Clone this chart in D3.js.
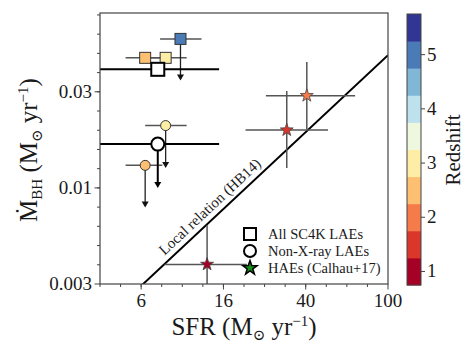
<!DOCTYPE html>
<html>
<head>
<meta charset="utf-8">
<script src="https://cdn.jsdelivr.net/npm/d3@7"></script>
<style>
body { margin: 0; background: #fff; }
text { font-family: "Liberation Serif", "DejaVu Serif", serif; fill: #1a1a1a; }
</style>
</head>
<body>
<svg id="chart" width="474" height="356"></svg>
<script>
// coloured LAE bins (squares)
var sqZ = [2.5, 3.0, 5.0];
var sqSFR = [6.6, 8.3, 9.8];
var sqSFRlo = [5.3, 7.0, 7.8];
var sqSFRhi = [8.3, 10.5, 12.4];
var sqBHAR = [0.0475, 0.0475, 0.0596];
var sqLimit = [null, null, 0.0362];

// non-X-ray bins (circles)
var ciZ = [2.5, 3.0];
var ciSFR = [6.6, 8.3];
var ciSFRlo = [5.3, 6.6];
var ciSFRhi = [8.0, 10.5];
var ciBHAR = [0.0131, 0.0211];
var ciLimit = [0.0079, 0.0127];

// full samples (white markers)
var allShape = ["square", "circle"];
var allSFR = [7.6, 7.6];
var allSFRlo = [3.0, 3.0];
var allSFRhi = [15.1, 15.1];
var allBHAR = [0.0414, 0.0169];
var allLimit = [null, 0.0100];

// HAEs (Calhau+17)
var haeZ = [1.0, 1.5, 2.2];
var haeSFR = [13.2, 32.2, 40.3];
var haeSFRlo = [8.2, 20.3, 25.5];
var haeSFRhi = [20.6, 51.1, 69.2];
var haeBHAR = [0.0040, 0.0200, 0.0302];
var haeBHARlo = [0.0015, 0.0127, 0.0202];
var haeBHARhi = [0.0064, 0.0319, 0.0452];

// local relation (HB14)
var localRatio = 4.9e-4;

// axis ticks
var xTicks = [Math.pow(10, 0.8), Math.pow(10, 1.2), Math.pow(10, 1.6), 100];
var xTickLabels = ["6", "16", "40", "100"];
var yTicks = [Math.pow(10, -2.5), 0.01, Math.pow(10, -1.5)];
var yTickLabels = ["0.003", "0.01", "0.03"];
var zTicks = [1, 2, 3, 4, 5];
var legendLabels = ["All SC4K LAEs", "Non-X-ray LAEs", "HAEs (Calhau+17)"];

var zColors = ["#a50026", "#da372a", "#f67b4a", "#fdbf71", "#feeea5",
               "#eef8df", "#bde2ee", "#80b7d6", "#4a7bb7", "#313695"];

var svg = d3.select("#chart");
var L = 100, R = 388, T = 13, B = 284;

var x = d3.scaleLog().domain([Math.pow(10, 0.6), 100]).range([L, R]);
var y = d3.scaleLog().domain([Math.pow(10, -2.5), Math.pow(10, -1.09)]).range([B, T]);
var zc = d3.scaleLinear().domain([0.75, 5.75]).range([285, 14]);

function zColor(z) {
    var i = Math.round((z - 1) / 0.5);
    return zColors[Math.max(0, Math.min(9, i))];
}

svg.append("rect").attr("width", 474).attr("height", 356).attr("fill", "#fff");

svg.append("clipPath").attr("id", "clip")
    .append("rect").attr("x", L).attr("y", T).attr("width", R - L).attr("height", B - T);

var plot = svg.append("g").attr("clip-path", "url(#clip)");

// local relation
var lx = x.domain();
plot.append("line")
    .attr("x1", x(lx[0])).attr("y1", y(lx[0] * localRatio))
    .attr("x2", x(lx[1])).attr("y2", y(lx[1] * localRatio))
    .attr("stroke", "#000").attr("stroke-width", 2);

var angle = Math.atan2(y(100 * localRatio) - y(10 * localRatio), x(100) - x(10)) * 180 / Math.PI;
var lblS = 14.8;
plot.append("text")
    .attr("transform", "translate(" + x(lblS) + "," + y(lblS * localRatio) + ") rotate(" + angle + ")")
    .attr("dy", -6)
    .attr("text-anchor", "middle")
    .style("font-size", "15px")
    .text("Local relation (HB14)");

function arrowHead(g, px, py, col) {
    g.append("path")
        .attr("d", "M" + (px - 3.5) + "," + (py - 6) + "L" + (px + 3.5) + "," + (py - 6) + "L" + px + "," + py + "Z")
        .attr("fill", col);
}

var gray = "#555";

// HAE error bars
haeZ.forEach(function (z, i) {
    plot.append("line").attr("x1", x(haeSFRlo[i])).attr("x2", x(haeSFRhi[i]))
        .attr("y1", y(haeBHAR[i])).attr("y2", y(haeBHAR[i]))
        .attr("stroke", gray).attr("stroke-width", 1.5);
    plot.append("line").attr("x1", x(haeSFR[i])).attr("x2", x(haeSFR[i]))
        .attr("y1", y(haeBHARlo[i])).attr("y2", y(haeBHARhi[i]))
        .attr("stroke", gray).attr("stroke-width", 1.5);
});

// coloured bins error bars
function colouredBars(sfr, lo, hi, bhar, lim) {
    sfr.forEach(function (s, i) {
        plot.append("line").attr("x1", x(lo[i])).attr("x2", x(hi[i]))
            .attr("y1", y(bhar[i])).attr("y2", y(bhar[i]))
            .attr("stroke", gray).attr("stroke-width", 1.5);
        if (lim[i]) {
            plot.append("line").attr("x1", x(s)).attr("x2", x(s))
                .attr("y1", y(bhar[i])).attr("y2", y(lim[i]) - 4)
                .attr("stroke", "#222").attr("stroke-width", 1.3);
            arrowHead(plot, x(s), y(lim[i]), "#111");
        }
    });
}
colouredBars(sqSFR, sqSFRlo, sqSFRhi, sqBHAR, sqLimit);
colouredBars(ciSFR, ciSFRlo, ciSFRhi, ciBHAR, ciLimit);

// white markers error bars
allSFR.forEach(function (s, i) {
    plot.append("line").attr("x1", x(allSFRlo[i])).attr("x2", x(allSFRhi[i]))
        .attr("y1", y(allBHAR[i])).attr("y2", y(allBHAR[i]))
        .attr("stroke", "#000").attr("stroke-width", 2);
    if (allLimit[i]) {
        plot.append("line").attr("x1", x(s)).attr("x2", x(s))
            .attr("y1", y(allBHAR[i])).attr("y2", y(allLimit[i]) - 4)
            .attr("stroke", "#000").attr("stroke-width", 2);
        arrowHead(plot, x(s), y(allLimit[i]), "#000");
    }
});

function starPath(r) {
    var pts = [];
    for (var k = 0; k < 10; k++) {
        var rr = k % 2 === 0 ? r : r * 0.4;
        var a = -Math.PI / 2 + k * Math.PI / 5;
        pts.push([rr * Math.cos(a), rr * Math.sin(a)]);
    }
    return "M" + pts.map(function (p) { return p[0].toFixed(2) + "," + p[1].toFixed(2); }).join("L") + "Z";
}

// markers
sqZ.forEach(function (z, i) {
    plot.append("rect")
        .attr("x", x(sqSFR[i]) - 5.5).attr("y", y(sqBHAR[i]) - 5.5)
        .attr("width", 11).attr("height", 11)
        .attr("fill", zColor(z)).attr("stroke", "#333").attr("stroke-width", 1);
});
ciZ.forEach(function (z, i) {
    plot.append("circle")
        .attr("cx", x(ciSFR[i])).attr("cy", y(ciBHAR[i])).attr("r", 5)
        .attr("fill", zColor(z)).attr("stroke", "#333").attr("stroke-width", 1);
});
allShape.forEach(function (shape, i) {
    if (shape === "square") {
        plot.append("rect")
            .attr("x", x(allSFR[i]) - 6.5).attr("y", y(allBHAR[i]) - 6.5)
            .attr("width", 13).attr("height", 13)
            .attr("fill", "#fff").attr("stroke", "#000").attr("stroke-width", 2);
    } else {
        plot.append("circle")
            .attr("cx", x(allSFR[i])).attr("cy", y(allBHAR[i])).attr("r", 6.5)
            .attr("fill", "#fff").attr("stroke", "#000").attr("stroke-width", 2);
    }
});
haeZ.forEach(function (z, i) {
    plot.append("path")
        .attr("transform", "translate(" + x(haeSFR[i]) + "," + y(haeBHAR[i]) + ")")
        .attr("d", starPath(6.8))
        .attr("fill", zColor(z)).attr("stroke", "#444").attr("stroke-width", 0.8);
});

// legend
var lg = svg.append("g");
var lgX = 250, lgY = [234, 251, 268];
lg.append("rect").attr("x", lgX - 6).attr("y", lgY[0] - 6).attr("width", 12).attr("height", 12)
    .attr("fill", "#fff").attr("stroke", "#000").attr("stroke-width", 2);
lg.append("circle").attr("cx", lgX).attr("cy", lgY[1]).attr("r", 6)
    .attr("fill", "#fff").attr("stroke", "#000").attr("stroke-width", 2);
lg.append("path").attr("transform", "translate(" + lgX + "," + lgY[2] + ")")
    .attr("d", starPath(7.5)).attr("fill", "#1a8a1a").attr("stroke", "#000").attr("stroke-width", 1.5);
legendLabels.forEach(function (t, i) {
    lg.append("text").attr("x", 268).attr("y", lgY[i] + 5)
        .style("font-size", "14.5px").text(t);
});

// frame
svg.append("rect").attr("x", L).attr("y", T).attr("width", R - L).attr("height", B - T)
    .attr("fill", "none").attr("stroke", "#444").attr("stroke-width", 1.2);

// x ticks
var xMinor = d3.range(6, 20).map(function (k) { return Math.pow(10, k / 10); });
svg.selectAll(".xminor").data(xMinor).enter().append("line")
    .attr("x1", function (d) { return x(d); }).attr("x2", function (d) { return x(d); })
    .attr("y1", B).attr("y2", B + 3).attr("stroke", "#444");
svg.selectAll(".xmajor").data(xTicks).enter().append("line")
    .attr("x1", function (d) { return x(d); }).attr("x2", function (d) { return x(d); })
    .attr("y1", B).attr("y2", B + 5.5).attr("stroke", "#444");
svg.selectAll(".xlab").data(xTicks).enter().append("text")
    .attr("x", function (d) { return x(d); }).attr("y", B + 23)
    .attr("text-anchor", "middle").style("font-size", "19px")
    .text(function (d, i) { return xTickLabels[i]; });

// y ticks
var yMinor = d3.range(-24, -10).map(function (k) { return Math.pow(10, k / 10); });
svg.selectAll(".yminor").data(yMinor).enter().append("line")
    .attr("x1", L - 3).attr("x2", L)
    .attr("y1", function (d) { return y(d); }).attr("y2", function (d) { return y(d); })
    .attr("stroke", "#444");
svg.selectAll(".ymajor").data(yTicks).enter().append("line")
    .attr("x1", L - 5.5).attr("x2", L)
    .attr("y1", function (d) { return y(d); }).attr("y2", function (d) { return y(d); })
    .attr("stroke", "#444");
svg.selectAll(".ylab").data(yTicks).enter().append("text")
    .attr("x", L - 8).attr("y", function (d) { return y(d) + 6; })
    .attr("text-anchor", "end").style("font-size", "19px")
    .text(function (d, i) { return yTickLabels[i]; });

// axis titles
var xt = svg.append("text").attr("x", 244).attr("y", 335).attr("text-anchor", "middle")
    .style("font-size", "25px");
xt.append("tspan").text("SFR (M");
xt.append("tspan").attr("dy", 5).style("font-size", "15px").text("⊙");
xt.append("tspan").attr("dy", -5).text(" yr");
xt.append("tspan").attr("dy", -9).style("font-size", "15px").text("−1");
xt.append("tspan").attr("dy", 9).text(")");

var yt = svg.append("text").attr("transform", "translate(37,150) rotate(-90)")
    .attr("text-anchor", "middle").style("font-size", "25px");
yt.append("tspan").text("Ṁ");
yt.append("tspan").attr("dy", 5).style("font-size", "15px").text("BH");
yt.append("tspan").attr("dy", -5).text(" (M");
yt.append("tspan").attr("dy", 5).style("font-size", "15px").text("⊙");
yt.append("tspan").attr("dy", -5).text(" yr");
yt.append("tspan").attr("dy", -9).style("font-size", "15px").text("−1");
yt.append("tspan").attr("dy", 9).text(")");

// colorbar
var cbX = 407, cbW = 14;
svg.selectAll(".cb").data(zColors).enter().append("rect")
    .attr("x", cbX).attr("width", cbW)
    .attr("y", function (d, i) { return zc(1 + i * 0.5 + 0.25); })
    .attr("height", function (d, i) { return zc(1 + i * 0.5 - 0.25) - zc(1 + i * 0.5 + 0.25) + 0.5; })
    .attr("fill", function (d) { return d; });
svg.append("rect").attr("x", cbX).attr("y", zc(5.75)).attr("width", cbW).attr("height", zc(0.75) - zc(5.75))
    .attr("fill", "none").attr("stroke", "#444").attr("stroke-width", 1);
svg.selectAll(".zt").data(zTicks).enter().append("line")
    .attr("x1", cbX + cbW).attr("x2", cbX + cbW + 4)
    .attr("y1", function (d) { return zc(d); }).attr("y2", function (d) { return zc(d); })
    .attr("stroke", "#444");
svg.selectAll(".zl").data(zTicks).enter().append("text")
    .attr("x", cbX + cbW + 6).attr("y", function (d) { return zc(d) + 6; })
    .style("font-size", "19px").text(function (d) { return d; });
svg.append("text").attr("transform", "translate(460,150) rotate(-90)")
    .attr("text-anchor", "middle").style("font-size", "21px").text("Redshift");
</script>
</body>
</html>
